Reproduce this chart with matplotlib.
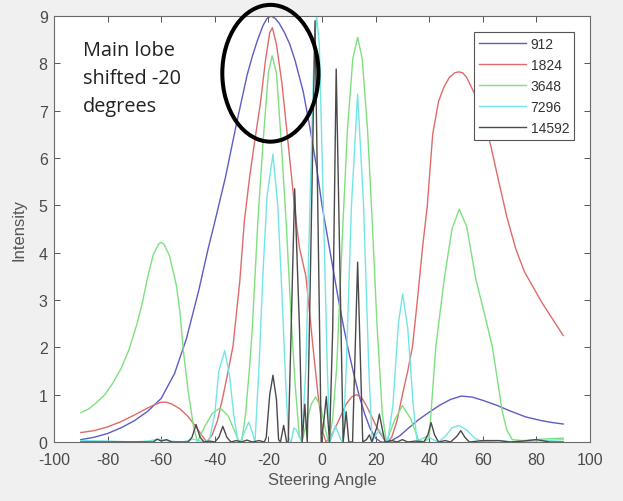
import matplotlib
matplotlib.use("Agg")
import matplotlib.pyplot as plt
from matplotlib.patches import Ellipse

plt.rcParams["axes.unicode_minus"] = False

# ---------------- data ----------------
ang_912 = [-90, -85, -80, -75, -70, -65, -60, -55, -50.6, -46, -42.5, -40, -36, -32, -28, -26, -24, -22, -20.5,
           -19, -17.5, -16, -14, -12, -10, -7, -4.7, -2, 0, 2, 4, 6, 8, 10, 12, 14, 16, 18, 20, 22, 24, 26,
           29, 32, 36, 40, 44, 48, 52, 56, 60, 65, 70, 76, 82, 86, 90]
val_912 = [0.05, 0.1, 0.18, 0.3, 0.45, 0.65, 0.92, 1.45, 2.18, 3.2, 4.08, 4.65, 5.6, 6.7, 7.74, 8.15, 8.5, 8.8, 8.95,
           9.0, 8.95, 8.85, 8.65, 8.4, 8.05, 7.4, 6.7, 5.8, 5.0, 4.35, 3.7, 3.05, 2.45, 1.9, 1.4, 0.95, 0.58, 0.28,
           0.08, 0.0, 0.0, 0.03, 0.13, 0.28, 0.47, 0.63, 0.78, 0.9, 0.97, 0.95, 0.88, 0.78, 0.66, 0.53, 0.45,
           0.41, 0.38]

ang_1824 = [-90, -85, -80, -75, -70, -65, -62, -60, -58, -56, -53, -50, -47, -45, -43, -41, -39, -37, -35, -33.2,
            -30.7, -29, -27, -25, -23, -21, -19.5, -18.5, -17, -15, -13.3, -11, -9.6, -8.4, -6, -3.4, -1.5, 0.3,
            1.5, 3, 5, 7, 9, 11, 13, 15, 17, 19, 21, 23, 24.5, 26, 28, 30, 32, 33.8, 35.6, 37.5, 39.3, 41.3,
            43.5, 45.5, 47.5, 49.5, 51, 52.5, 54, 57, 60, 63, 66, 69, 72.3, 75.5, 78.5, 82, 86, 90]
val_1824 = [0.2, 0.24, 0.32, 0.43, 0.57, 0.72, 0.8, 0.84, 0.84, 0.8, 0.7, 0.54, 0.32, 0.15, 0.0, 0.15, 0.45, 0.95,
            1.5, 2.03, 3.38, 4.65, 5.6, 6.4, 7.15, 8.1, 8.65, 8.75, 8.4, 7.6, 6.68, 5.4, 4.64, 4.1, 3.5, 2.03, 1.0,
            0.2, 0.0, 0.1, 0.3, 0.55, 0.8, 0.95, 1.0, 0.92, 0.72, 0.48, 0.25, 0.07, 0.0, 0.1, 0.45, 1.0, 1.5, 2.03,
            3.0, 4.1, 5.0, 6.5, 7.2, 7.5, 7.7, 7.8, 7.82, 7.8, 7.7, 7.35, 6.9, 6.25, 5.49, 4.75, 4.08, 3.6, 3.3,
            2.95, 2.6, 2.25]

ang_3648 = [-90, -87, -84, -81, -78, -75, -72, -69, -67, -65, -63, -61, -60, -59, -57, -55.5, -54.3, -53, -51.8,
            -50, -48, -46.5, -44, -41, -38, -35, -33, -31, -30, -28.5, -27, -26, -24, -22, -20, -18.6, -17,
            -15.2, -13.3, -11.5, -10, -8.5, -7.5, -6, -4, -2.4, -0.5, 1.5, 2.5, 4, 5.5, 7.8, 9.5, 11.5, 13.3,
            15, 17, 18.8, 20.5, 22.5, 24, 27, 30, 33, 36, 38, 40, 40.7, 42.5, 45.6, 48.5, 51.2, 54, 57.4, 60,
            63.5, 65.5, 67.3, 69, 71, 75, 80, 85, 90]
val_3648 = [0.62, 0.7, 0.84, 1.0, 1.25, 1.55, 1.95, 2.5, 2.95, 3.5, 3.95, 4.18, 4.22, 4.18, 3.95, 3.6, 3.3, 2.74,
            1.96, 1.1, 0.35, 0.0, 0.3, 0.6, 0.72, 0.55, 0.28, 0.02, 0.0, 0.6, 1.6, 2.4, 4.6, 6.33, 7.8, 8.16, 7.8,
            6.33, 4.57, 2.6, 1.2, 0.15, 0.0, 0.35, 0.8, 0.95, 0.75, 0.2, 0.0, 0.5, 1.6, 4.6, 6.6, 8.1, 8.55, 8.1,
            6.6, 4.6, 2.5, 0.6, 0.0, 0.45, 0.77, 0.5, 0.05, 0.0, 0.08, 0.63, 2.03, 3.44, 4.5, 4.92, 4.55, 3.44,
            2.85, 2.03, 1.3, 0.63, 0.25, 0.05, 0.03, 0.05, 0.07, 0.08]

ang_7296 = [-90, -80, -70, -65, -61, -57, -52, -48, -44, -42, -40, -38.5, -36.3, -34.5, -33, -31.5, -30.5, -29,
            -27.3, -26, -25, -23.5, -22, -20.5, -18.3, -16.5, -15, -13.5, -12.5, -11.5, -10.5, -9.5, -8, -7.5,
            -6, -4.5, -3, -2, -1, 0.5, 2, 3, 5, 7, 7.8, 9, 11, 13.3, 15.5, 17.5, 18.7, 20, 21.5, 23, 24.5,
            26.5, 28.5, 30.1, 32, 34, 35.5, 37.5, 39.5, 41.5, 43.5, 46, 48.5, 51.2, 54, 57, 60, 66, 72, 80, 90]
val_7296 = [0.03, 0.02, 0.0, 0.02, 0.06, 0.02, 0.0, 0.06, 0.0, 0.05, 0.6, 1.5, 1.93, 1.4, 0.6, 0.05, 0.0, 0.2,
            0.42, 0.2, 0.0, 1.6, 3.6, 5.2, 6.08, 5.0, 3.2, 1.2, 0.1, 0.0, 0.3, 0.25, 0.05, 0.0,
            1.6, 5.0, 8.2, 9.0, 8.4, 5.0, 1.5, 0.0, 0.35, 0.05, 0.0, 1.5, 5.0, 7.35, 5.0, 1.5, 0.0, 0.15, 0.25, 0.1, 0.0,
            0.8, 2.5, 3.13, 2.4, 0.8, 0.0, 0.08, 0.12, 0.05, 0.0, 0.12, 0.3, 0.35, 0.25, 0.08, 0.0, 0.03, 0.0, 0.02, 0.05]

ang_14592 = [-90, -70, -63, -61.5, -60, -58, -56, -50, -48.5, -47, -45.5, -44, -42, -40, -38.5, -37, -35.5, -34,
             -32, -30, -28, -26, -23.5, -21.5, -20.8, -19.5, -18.3, -17, -16.2, -15.5, -14.3, -13.2, -12.6,
             -11.5, -10.2, -8.4, -7.4, -6.4, -5.5, -4.7, -2.6, -0.9, -0.3, 0.8, 1.6, 2.8, 4.0, 5.3, 7.1, 7.9,
             9.0, 10.0, 11.4, 13.3, 15.2, 16.6, 17.7, 18.6, 20.4, 21.4, 22.4, 23.5, 26, 28, 30, 32, 35, 38,
             39.5, 40.7, 42, 43.5, 46, 48, 50.3, 51.8, 53.3, 55, 60, 66, 70, 75, 80, 85, 90]
val_14592 = [0.0, 0.0, 0.0, 0.06, 0.02, 0.05, 0.0, 0.0, 0.1, 0.37, 0.1, 0.0, 0.02, 0.0, 0.1, 0.33, 0.1, 0.0,
             0.03, 0.0, 0.04, 0.0, 0.03, 0.0, 0.1, 1.0, 1.41, 0.9, 0.05, 0.0, 0.35, 0.0, 0.0,
             2.4, 5.35, 2.4, 0.0, 0.8, 0.0, 2.4, 8.9, 2.4, 0.0, 0.5, 0.96, 0.0, 2.4, 7.88, 2.4, 0.0,
             0.64, 0.0, 0.0, 3.8, 0.0, 0.05, 0.15, 0.0, 0.3, 0.59, 0.3, 0.0, 0.03, 0.0, 0.05, 0.0, 0.02, 0.0,
             0.15, 0.41, 0.15, 0.0, 0.03, 0.0, 0.12, 0.24, 0.1, 0.0, 0.03, 0.03, 0.0, 0.02, 0.05, 0.0, 0.0]

series = [
    ("912", ang_912, val_912, "#5c5cc4"),
    ("1824", ang_1824, val_1824, "#e06a6a"),
    ("3648", ang_3648, val_3648, "#7fe07f"),
    ("7296", ang_7296, val_7296, "#72e6e6"),
    ("14592", ang_14592, val_14592, "#4a4a4a"),
]

x_ticks = [-100, -80, -60, -40, -20, 0, 20, 40, 60, 80, 100]
y_ticks = [0, 1, 2, 3, 4, 5, 6, 7, 8, 9]

# ---------------- figure ----------------
fig = plt.figure(figsize=(6.23, 5.02), dpi=100, facecolor="#f0f0f0")
ax = fig.add_axes([54 / 623, 59 / 502, 536 / 623, 426 / 502])
ax.set_facecolor("white")

for name, a, v, c in series:
    ax.plot(a, v, color=c, lw=1.0, label=name)

ax.set_xlim(-100, 100)
ax.set_ylim(0, 9)
ax.set_xticks(x_ticks)
ax.set_yticks(y_ticks)
ax.tick_params(direction="in", length=4, width=0.7, top=True, right=True,
               labelsize=11.5, colors="#555555", labelcolor="#4a4a4a")
ax.tick_params(axis="x", pad=7)
ax.tick_params(axis="y", pad=4.5)
for lab in ax.get_xticklabels() + ax.get_yticklabels():
    lab.set_family("Liberation Sans")
for sp in ax.spines.values():
    sp.set_color("#6a6a6a")
    sp.set_linewidth(0.8)

ax.set_xlabel("Steering Angle", fontsize=12, color="#555555", family="Liberation Sans", labelpad=4)
ax.set_ylabel("Intensity", fontsize=12, color="#555555", family="Liberation Sans", labelpad=9)

leg = ax.legend(loc="upper right", bbox_to_anchor=(574 / 623, 469 / 502),
                bbox_transform=fig.transFigure, fontsize=10, handlelength=3.4, handletextpad=0.3,
                labelspacing=0.5, borderpad=0.35, borderaxespad=0, fancybox=False, framealpha=1,
                edgecolor="#555555", prop={"family": "Liberation Sans", "size": 10})
leg.get_frame().set_linewidth(0.8)
for t in leg.get_texts():
    t.set_color("#333333")

ax.text(-89.3, 8.5, "Main lobe\nshifted -20\ndegrees", fontsize=14.3, family="Open Sans",
        color="#222222", va="top", ha="left", linespacing=1.55)

ell = Ellipse((-19.25, 7.79), 35.9, 2.89, fill=False, edgecolor="black", lw=2.9, clip_on=False, zorder=5)
ax.add_patch(ell)

fig.savefig("out.png", dpi=100, facecolor=fig.get_facecolor())
